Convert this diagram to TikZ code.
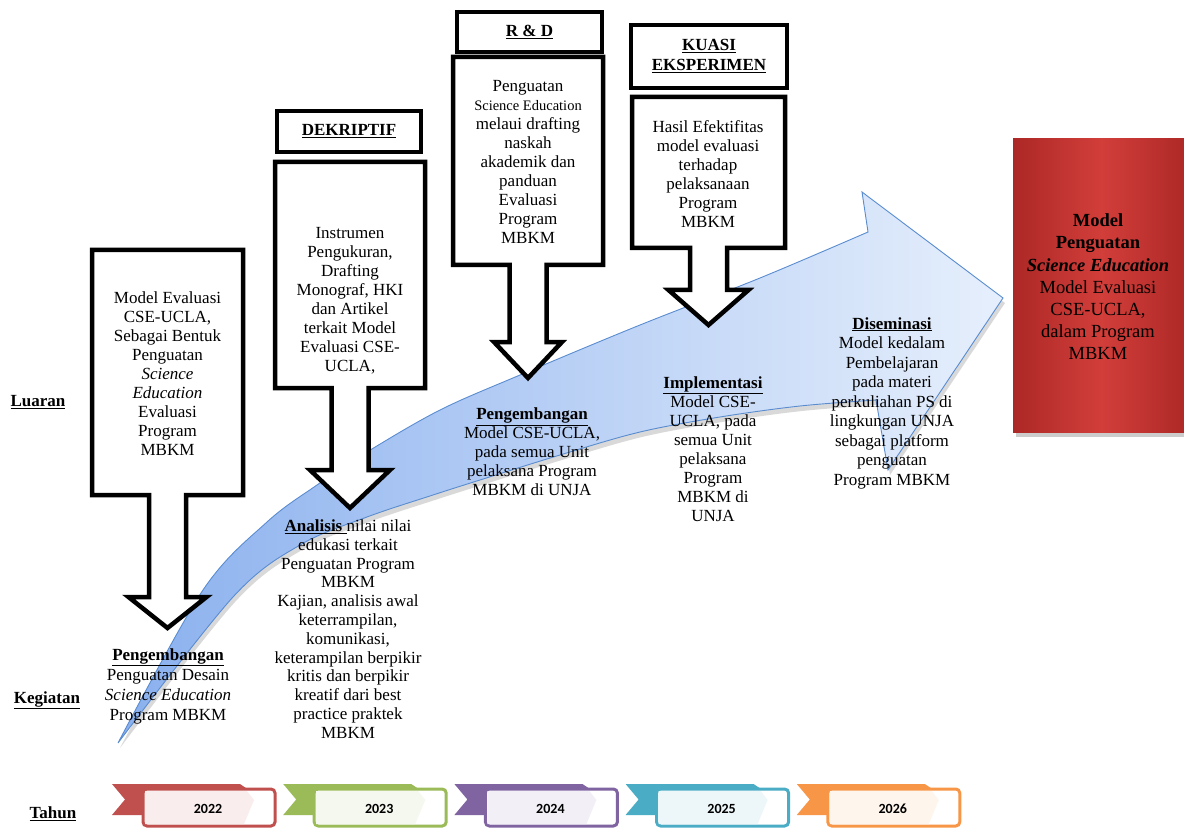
\documentclass[tikz,border=0pt]{standalone}
\usepackage{fontspec}
\setmainfont{Liberation Serif}
\newfontfamily\yearfont{Carlito}
\definecolor{rib0}{HTML}{C0504D}
\definecolor{rib1}{HTML}{9BBB59}
\definecolor{rib2}{HTML}{8064A2}
\definecolor{rib3}{HTML}{4BACC6}
\definecolor{rib4}{HTML}{F79646}
\definecolor{arrL}{RGB}{138,176,238}
\definecolor{arrR}{RGB}{230,239,252}
\definecolor{arrLine}{RGB}{90,140,208}
\definecolor{redA}{RGB}{172,40,38}
\definecolor{redB}{RGB}{210,62,58}
\newcommand\arrowpath{plot[smooth,tension=0.55] coordinates {(118,743) (203,590) (267,522) (317,485) (367,452) (440,410) (520,375) (640,325) (760,278) (868,232)} -- (862,192) -- (1003,298) -- (888,470) -- (876,400) -- plot[smooth,tension=0.55] coordinates {(876,400) (800,406) (720,417) (640,432) (560,455) (480,480) (433,495) (367,517) (300,545) (233,597) (118,743)} -- cycle}
% #1 cx, #2 half width, #3 top, #4 bottom, #5 head y, #6 tip y, #7 head half width
\newcommand\calloutbox[7]{%
  \draw[callout] (#1-#2,#3) -- (#1+#2,#3) -- (#1+#2,#4) -- (#1+18.5,#4) -- (#1+18.5,#5) -- (#1+#7,#5) -- (#1,#6) -- (#1-#7,#5) -- (#1-18.5,#5) -- (#1-18.5,#4) -- (#1-#2,#4) -- cycle;}
\tikzset{
  callout/.style={draw=black, line width=4.5pt, fill=white, line join=miter},
  hdr/.style={draw=black, line width=4.5pt, fill=white},
  txt/.style={align=center, font=\fontsize{17}{19}\selectfont, inner sep=0pt},
  bigtxt/.style={align=center, font=\fontsize{18.5}{22.2}\selectfont, inner sep=0pt},
  lbl/.style={align=center, font=\fontsize{17}{20}\selectfont\bfseries, inner sep=0pt},
  yr/.style={font=\yearfont\fontsize{14}{16}\selectfont\bfseries, inner sep=0pt}
}
\begin{document}
\begin{tikzpicture}[x=1pt,y=-1pt]
\useasboundingbox (0,0) rectangle (1184,829);
\clip (0,0) rectangle (1184,829);
% big curved arrow
\fill[black, opacity=0.15, shift={(2,5)}] \arrowpath;
\shadedraw[left color=arrL, right color=arrR, draw=arrLine, line width=0.9pt] \arrowpath;
% result box
\fill[black, opacity=0.2] (1016,143) rectangle (1190,437);
\shade[left color=redA, right color=redA, middle color=redB] (1013,139) rectangle (1190,432);
% callouts
\calloutbox{167.5}{75.5}{250}{495}{597}{628}{39}
\calloutbox{350}{75}{162}{388}{470}{508}{40}
\calloutbox{528}{75}{57}{265}{342}{378}{34}
\calloutbox{708.5}{76.5}{97}{248}{290}{325}{40}
% headers
\draw[hdr] (277,111) rectangle (421,152);
\draw[hdr] (457,12) rectangle (602,52);
\draw[hdr] (631,25) rectangle (787,88);
\node[lbl] (h2) at (349,131) {\underline{DEKRIPTIF}};
\node[lbl] (h3) at (529.5,32) {\underline{R \& D}};
\node[lbl] (h4) at (709,56) {\underline{KUASI}\\\underline{EKSPERIMEN}};
% output texts
\node[txt] (o1) at (167.5,374) {Model Evaluasi\\CSE-UCLA,\\Sebagai Bentuk\\Penguatan\\\textit{Science}\\\textit{Education}\\Evaluasi\\Program\\MBKM};
\node[txt] (o2) at (350,301) {Instrumen\\Pengukuran,\\Drafting\\Monograf, HKI\\dan Artikel\\terkait Model\\Evaluasi CSE-\\UCLA,};
\node[txt] (o3) at (528,162) {Penguatan\\{\fontsize{14.5}{19}\selectfont Science Education}\\melaui drafting\\naskah\\akademik dan\\panduan\\Evaluasi\\Program\\MBKM};
\node[txt] (o4) at (708,174) {Hasil Efektifitas\\model evaluasi\\terhadap\\pelaksanaan\\Program\\MBKM};
% activity texts
\node[txt, font=\fontsize{17}{20}\selectfont] (a1) at (168,686) {\underline{\textbf{Pengembangan}}\\Penguatan Desain\\\textit{Science Education}\\Program MBKM};
\node[txt, font=\fontsize{17}{18.8}\selectfont] (a2) at (348,629) {\underline{\textbf{Analisis} }nilai nilai\\edukasi terkait\\Penguatan Program\\MBKM\\Kajian, analisis awal\\keterrampilan,\\komunikasi,\\keterampilan berpikir\\kritis dan berpikir\\kreatif dari best\\practice praktek\\MBKM};
\node[txt] (a3) at (532,452) {\underline{\textbf{Pengembangan}}\\Model CSE-UCLA,\\pada semua Unit\\pelaksana Program\\MBKM di UNJA};
\node[txt] (a4) at (713,449) {\underline{\textbf{Implementasi}}\\Model CSE-\\UCLA, pada\\semua Unit\\pelaksana\\Program\\MBKM di\\UNJA};
\node[txt, font=\fontsize{17}{19.5}\selectfont] (a5) at (892,403) {\underline{\textbf{Diseminasi}}\\Model kedalam\\Pembelajaran\\pada materi\\perkuliahan PS di\\lingkungan UNJA\\sebagai platform\\penguatan\\Program MBKM};
% result text
\node[bigtxt] (res) at (1098,287) {\textbf{Model}\\\textbf{Penguatan}\\\textbf{\textit{Science Education}}\\Model Evaluasi\\CSE-UCLA,\\dalam Program\\MBKM};
% row labels
\node[lbl] (luaran) at (38,402) {\underline{Luaran}};
\node[lbl] (kegiatan) at (47,700) {\underline{Kegiatan}};
\node[lbl] (tahun) at (53,814) {\underline{Tahun}};
% year ribbons
\foreach \i/\yr in {0/2022,1/2023,2/2024,3/2025,4/2026}{
  \pgfmathsetmacro\o{112+171.2*\i}
  \fill[rib\i] (\o,784) -- (\o+128,784) -- (\o+137,790) -- (\o+137,815) -- (\o,815) -- (\o+13,799.5) -- cycle;
  \draw[rib\i, line width=3pt, fill=white, rounded corners=4pt] (\o+31,789) rectangle (\o+163,826);
  \fill[rib\i!10] (\o+33,791) -- (\o+135,791) -- (\o+142,800) -- (\o+132,824) -- (\o+33,824) -- cycle;
  \node[yr] (year\i) at (\o+96,809) {\yr};
}
\end{tikzpicture}
\end{document}
